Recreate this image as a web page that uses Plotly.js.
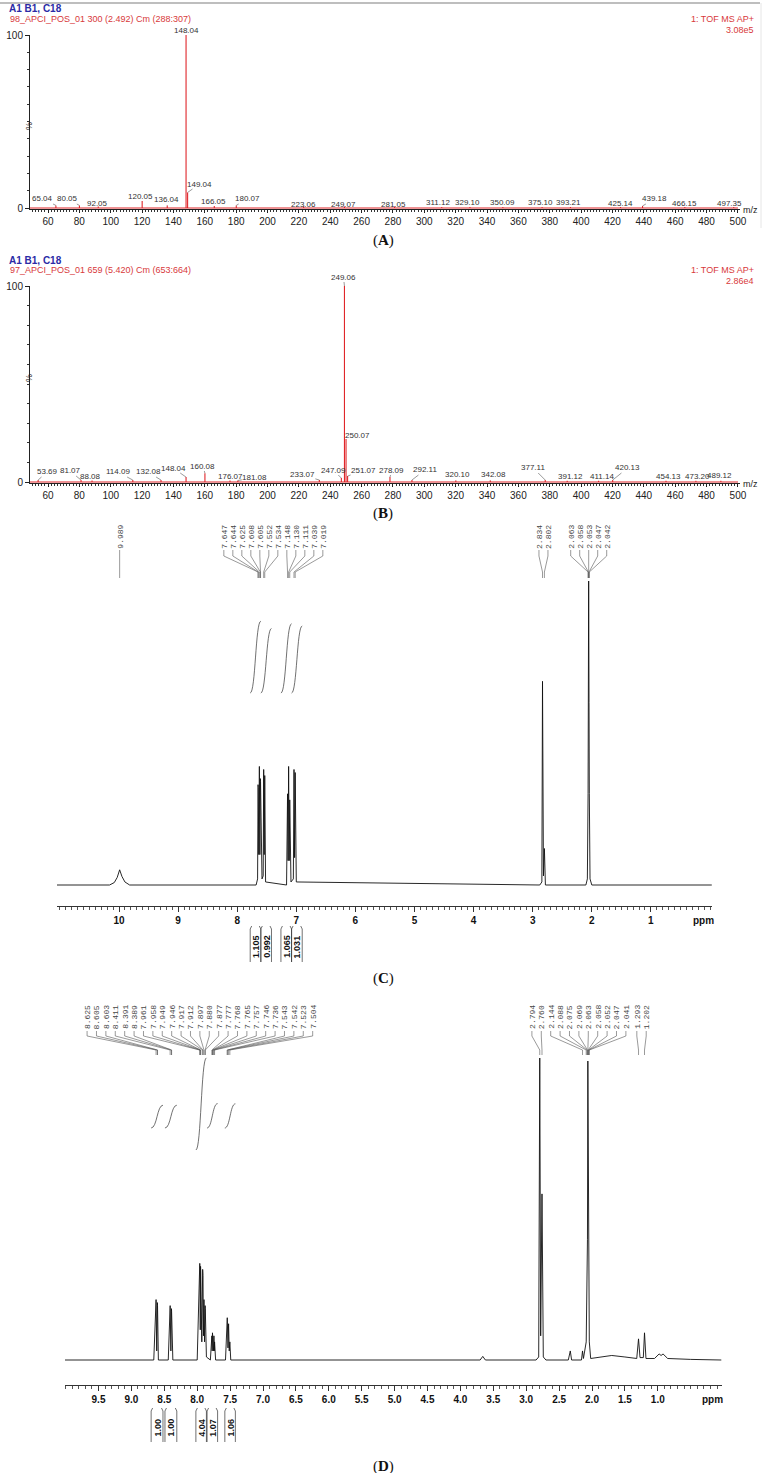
<!DOCTYPE html>
<html><head><meta charset="utf-8">
<script src="https://cdn.plot.ly/plotly-3.0.1.min.js"></script>
<style>html,body{margin:0;padding:0;background:#fff;}#chart{width:767px;height:1473px;}</style>
</head><body><div id="chart"></div>
<script>
// ================= DATA =================
// Panel A mass spectrum (m/z, relative intensity %)
const msA_mz  = [65.04, 80.05, 92.05, 120.05, 136.04, 148.04, 149.04, 166.05, 180.07, 223.06, 249.07, 281.05, 311.12, 329.10, 350.09, 375.10, 393.21, 425.14, 439.18, 466.15, 497.35];
const msA_int = [1.5, 1.5, 0.8, 4, 1.5, 100, 9, 1.2, 1.5, 0.8, 0.8, 0.8, 0.6, 0.6, 0.6, 0.6, 0.6, 0.6, 1.2, 0.6, 0.6];
// Panel B mass spectrum
const msB_mz  = [53.69, 81.07, 88.08, 114.09, 132.08, 148.04, 160.08, 176.07, 181.08, 233.07, 247.09, 249.06, 250.07, 251.07, 278.09, 292.11, 320.10, 342.08, 377.11, 391.12, 411.14, 420.13, 454.13, 473.20, 489.12];
const msB_int = [1, 1, 0.8, 1, 1, 2.5, 4.5, 0.8, 0.8, 1, 2, 100, 22, 3, 2.5, 1, 0.8, 0.8, 1, 0.6, 0.6, 1, 0.6, 0.6, 0.6];
const msTicks = [60, 80, 100, 120, 140, 160, 180, 200, 220, 240, 260, 280, 300, 320, 340, 360, 380, 400, 420, 440, 460, 480, 500];

// Panel C 1H NMR spectrum (ppm, intensity)
const nmrC_ppm = [11.05, 10.16, 10.08, 10.03, 9.989, 9.95, 9.90, 9.82, 7.68, 7.655, 7.647, 7.644, 7.635, 7.625, 7.616, 7.608, 7.605, 7.58, 7.560, 7.552, 7.543, 7.534, 7.52, 7.165, 7.148, 7.139, 7.130, 7.120, 7.111, 7.09, 7.05, 7.039, 7.029, 7.019, 7.00, 2.88, 2.845, 2.834, 2.818, 2.802, 2.785, 2.10, 2.075, 2.063, 2.058, 2.053, 2.047, 2.042, 2.030, 2.00, -0.03];
const nmrC_int = [0, 0, 0.8, 2.5, 5, 2.8, 1, 0, 0, 2, 33, 32, 10, 39, 10, 35, 34, 2, 3, 38, 10, 36, 1, 0, 30, 8, 39, 8, 28, 1, 2, 38, 9, 37, 1, 0, 1, 67, 3, 12, 0, 0, 2, 30, 60, 100, 60, 30, 2, 0, 0];
const nmrC_peakLabels = ["9.989","7.647","7.644","7.625","7.608","7.605","7.552","7.534","7.148","7.130","7.111","7.039","7.019","2.834","2.802","2.063","2.058","2.053","2.047","2.042"];
const nmrC_intRegions = [[7.78, 7.60], [7.60, 7.42], [7.26, 7.08], [7.08, 6.90]];
const nmrC_intValues = ["1.105", "0.992", "1.065", "1.031"];
const nmrC_ticks = [1, 2, 3, 4, 5, 6, 7, 8, 9, 10];

// Panel D 1H NMR spectrum
const nmrD_ppm = [10.01, 9.0, 8.66, 8.625, 8.615, 8.605, 8.603, 8.59, 8.44, 8.411, 8.40, 8.391, 8.389, 8.37, 8.00, 7.961, 7.958, 7.953, 7.949, 7.946, 7.93, 7.917, 7.912, 7.905, 7.897, 7.888, 7.880, 7.877, 7.86, 7.80, 7.777, 7.772, 7.768, 7.765, 7.761, 7.757, 7.750, 7.746, 7.740, 7.736, 7.72, 7.57, 7.543, 7.542, 7.532, 7.523, 7.513, 7.504, 7.49, 3.70, 3.66, 3.62, 2.85, 2.81, 2.794, 2.780, 2.760, 2.74, 2.70, 2.36, 2.33, 2.31, 2.16, 2.144, 2.13, 2.088, 2.075, 2.069, 2.063, 2.058, 2.052, 2.047, 2.041, 2.02, 1.90, 1.70, 1.50, 1.32, 1.293, 1.27, 1.22, 1.202, 1.18, 1.05, 0.98, 0.95, 0.92, 0.85, 0.50, 0.035];
const nmrD_int = [0, 0, 0, 20, 3, 19, 18, 0, 0, 18, 3, 17, 16, 0, 0, 32, 30, 10, 31, 29, 6, 30, 28, 8, 20, 6, 18, 17, 1, 0, 8, 3, 9, 8, 3, 7, 3, 8, 3, 6, 0, 0, 14, 13, 4, 12, 3, 6, 0, 0, 1.2, 0, 0, 1, 100, 8, 55, 1, 0, 0, 3, 0, 0, 3, 0.5, 6, 22, 40, 99, 60, 35, 18, 6, 0.5, 0.8, 1.5, 1, 0.5, 7, 0.8, 0.8, 9, 0.5, 0.5, 2, 1.5, 2, 0.5, 0.2, 0];
const nmrD_peakLabels = ["8.625","8.605","8.603","8.411","8.391","8.389","7.961","7.958","7.949","7.946","7.917","7.912","7.897","7.880","7.877","7.777","7.768","7.765","7.757","7.746","7.736","7.543","7.542","7.523","7.504","2.794","2.760","2.144","2.088","2.075","2.069","2.063","2.058","2.052","2.047","2.041","1.293","1.202"];
const nmrD_intRegions = [[8.70, 8.52], [8.49, 8.31], [8.02, 7.86], [7.85, 7.69], [7.58, 7.42]];
const nmrD_intValues = ["1.00", "1.00", "4.04", "1.07", "1.06"];
const nmrD_ticks = [1.0, 1.5, 2.0, 2.5, 3.0, 3.5, 4.0, 4.5, 5.0, 5.5, 6.0, 6.5, 7.0, 7.5, 8.0, 8.5, 9.0, 9.5];

// ================= LAYOUT HELPERS (pixels) =================
const W = 767, H = 1473;
const X = p => p / W, Y = p => 1 - p / H;
const FONT = 'Liberation Sans, Arial, sans-serif';
const MONO = 'Liberation Mono, DejaVu Sans Mono, monospace';
const SERIF = 'Liberation Serif, Times New Roman, serif';
const RED = '#e0262a';

// label offsets for MS peak labels (pixels: dx right, dy up from baseline to label centre)
const msA_lblDx = [-13, -12, -1, -2, -1, 0, 12, -1, 11, 0, -1, -1, -4, -2, 0, -2, -2, 0, 12, 0, -4];
const msA_lblDy = [9, 9, 5, 12, 8, 178, 24, 6, 9, 4, 4, 4, 5, 5, 5, 5, 5, 4, 9, 4, 4];
const msB_lblDx = [9, -11, -2, -15, -13, -13, -2, 0, 17, -17, -8, -1, 11, 16, 2, 13, 2, 3, -12, 3, 3, 15, 2, 2, -1];
const msB_lblDy = [10, 11, 5, 10, 10, 14, 16, 5, 4, 7, 12, 205, 47, 12, 12, 12, 7, 7, 14, 5, 5, 14, 5, 5, 6];

const MSX = {x0: 30, x1: 740, px60: 48, ppu: 1.568};
const mzAt = px => 60 + (px - MSX.px60) / MSX.ppu;
const PA = {top: 35, base: 208};
const PB = {top: 286, base: 482};
const PC = {x0: 57, x1: 712, p0: 710, ppu: 59.1, axisY: 906, baseY: 885, topY: 560, scale: 3.04};
const PD = {x0: 65, x1: 722, p0: 723.6, ppu: 65.8, axisY: 1385, baseY: 1360, topY: 1045, scale: 3.02};
const ppmPx = (P, v) => P.p0 - v * P.ppu;
const ppmAt = (P, px) => (P.p0 - px) / P.ppu;

const shapes = [], annotations = [];
function ann(o) { annotations.push(Object.assign({showarrow: false, xref: 'paper', yref: 'paper'}, o)); }
function seg(x0, y0, x1, y1, color, width) {
  shapes.push({type: 'line', xref: 'paper', yref: 'paper', x0: X(x0), y0: Y(y0), x1: X(x1), y1: Y(y1), line: {color: color, width: width}});
}

// ---------- MS traces ----------
function stickTrace(mz, inten, xa, ya) {
  const lo = mzAt(MSX.x0), hi = mzAt(MSX.x1 - 2);
  const order = mz.map((m, i) => i).sort((a, b) => mz[a] - mz[b]);
  const xs = [lo], ys = [0];
  order.forEach(i => { xs.push(mz[i], mz[i], mz[i]); ys.push(0, inten[i], 0); });
  xs.push(hi); ys.push(0);
  return {x: xs, y: ys, xaxis: xa, yaxis: ya, type: 'scatter', mode: 'lines', line: {color: RED, width: 1.1}, hoverinfo: 'skip'};
}
function msAxes(P, xa, ya) {
  const ppy = (P.base - P.top) / 100;
  const xaxis = {domain: [X(MSX.x0), X(MSX.x1)], range: [mzAt(MSX.x0), mzAt(MSX.x1)], anchor: ya,
    showgrid: false, zeroline: false, showline: true, linecolor: '#222', linewidth: 1, layer: 'below traces',
    ticks: 'outside', ticklen: 3, tickcolor: '#222', tickwidth: 1, tickmode: 'array', tickvals: msTicks,
    minor: {tickmode: 'linear', tick0: 0, dtick: 2, ticklen: 2, ticks: 'outside', tickcolor: '#333'},
    tickfont: {family: FONT, size: 10, color: '#222'}, fixedrange: true};
  const yaxis = {domain: [Y(P.base + 1), Y(P.top)], range: [-1 / ppy, 100], anchor: xa,
    showgrid: false, zeroline: false, showline: true, linecolor: '#222', linewidth: 1,
    ticks: 'outside', ticklen: 4, tickcolor: '#222', tickmode: 'array', tickvals: [0, 100],
    minor: {tickmode: 'linear', tick0: 0, dtick: 10, ticklen: 2, ticks: 'outside', tickcolor: '#333'},
    tickfont: {family: FONT, size: 10, color: '#222'}, fixedrange: true};
  return [xaxis, yaxis];
}
function msLabels(P, mz, inten, dx, dy, xr, yr) {
  const ppy = (P.base - P.top) / 100;
  mz.forEach((m, i) => {
    const hpx = inten[i] * ppy;
    annotations.push({x: m, y: inten[i], xref: xr, yref: yr, text: m.toFixed(2), showarrow: true, arrowhead: 0,
      arrowwidth: 0.6, arrowcolor: '#555', ax: dx[i], ay: hpx - dy[i], standoff: 0, borderpad: 0,
      font: {family: FONT, size: 8, color: '#333'}});
  });
}
function msHeader(P, t0, line2, right1, right2, pctY) {
  ann({x: X(7), y: Y(t0), xanchor: 'left', yanchor: 'middle', text: '<b>A1 B1, C18</b>', font: {family: FONT, size: 10, color: '#2b2ba6'}});
  ann({x: X(8), y: Y(t0 + 10), xanchor: 'left', yanchor: 'middle', text: line2, font: {family: FONT, size: 9, color: '#d8393b'}});
  ann({x: X(756), y: Y(t0 + 10), xanchor: 'right', yanchor: 'middle', text: right1, font: {family: FONT, size: 9, color: '#d8393b'}});
  ann({x: X(756), y: Y(t0 + 21), xanchor: 'right', yanchor: 'middle', text: right2, font: {family: FONT, size: 9, color: '#d8393b'}});
  ann({x: X(22), y: Y(pctY), text: '%', textangle: -90, font: {family: FONT, size: 9, color: '#222'}});
  ann({x: X(750), y: Y(P.base + 2), xanchor: 'center', yanchor: 'middle', text: 'm/z', font: {family: FONT, size: 9, color: '#222'}});
}

// ---------- NMR ----------
function nmrAxes(P, tickvals, fmt, xa, ya) {
  const xaxis = {domain: [X(P.x0), X(P.x1)], range: [ppmAt(P, P.x0), ppmAt(P, P.x1)], anchor: ya,
    showgrid: false, zeroline: false, showline: true, linecolor: '#333', linewidth: 1,
    ticks: 'outside', ticklen: 5, tickcolor: '#333', tickwidth: 1, tickmode: 'array', tickvals: tickvals,
    ticktext: tickvals.map(fmt),
    minor: {tickmode: 'linear', tick0: 0, dtick: 0.1, ticklen: 3, ticks: 'outside', tickcolor: '#555'},
    tickfont: {family: FONT, size: 10, color: '#111', weight: 'bold'}, fixedrange: true};
  const yaxis = {domain: [Y(P.axisY), Y(P.topY)], range: [-(P.axisY - P.baseY) / P.scale, (P.baseY - P.topY) / P.scale],
    anchor: xa, visible: false, fixedrange: true};
  return [xaxis, yaxis];
}
function nmrPeakLabels(P, labels, sp, yText, yA, yB, yC, yD) {
  const pk = labels.map(s => ppmPx(P, parseFloat(s)));
  let groups = pk.map((p, i) => ({idx: [i], sum: p}));
  let changed = true;
  while (changed) {
    changed = false;
    for (let g = 1; g < groups.length; g++) {
      const a = groups[g - 1], b = groups[g];
      const ac = a.sum / a.idx.length, bc = b.sum / b.idx.length;
      const aR = ac + (a.idx.length - 1) * sp / 2, bL = bc - (b.idx.length - 1) * sp / 2;
      if (bL - aR < sp) {
        groups.splice(g - 1, 2, {idx: a.idx.concat(b.idx), sum: a.sum + b.sum});
        changed = true; break;
      }
    }
  }
  const pos = [];
  groups.forEach(g => {
    const c = g.sum / g.idx.length, n = g.idx.length;
    g.idx.forEach((i, k) => { pos[i] = c - (n - 1) * sp / 2 + k * sp; });
  });
  labels.forEach((s, i) => {
    ann({x: X(pos[i]), y: Y(yText), xanchor: 'center', yanchor: 'middle', text: s, textangle: -90,
      font: {family: MONO, size: 8, color: '#444'}});
    shapes.push({type: 'path', xref: 'paper', yref: 'paper',
      path: `M ${X(pos[i])},${Y(yA)} L ${X(pos[i])},${Y(yB)} L ${X(pk[i])},${Y(yC)} L ${X(pk[i])},${Y(yD)}`,
      line: {color: '#555', width: 0.6}});
  });
}
function nmrIntegrals(P, regions, values, bottoms, scalePx, boxTop, boxBot) {
  regions.forEach((r, i) => {
    const xa = ppmPx(P, r[0]), xb = ppmPx(P, r[1]);
    const yb = bottoms[i], yt = yb - parseFloat(values[i]) * scalePx, xm = (xa + xb) / 2;
    shapes.push({type: 'path', xref: 'paper', yref: 'paper',
      path: `M ${X(xa)},${Y(yb)} C ${X(xm)},${Y(yb)} ${X(xm)},${Y(yt)} ${X(xb)},${Y(yt)}`,
      line: {color: '#333', width: 0.7}});
    seg(xa, boxTop, xa, boxBot, '#333', 0.7);
    seg(xb, boxTop, xb, boxBot, '#333', 0.7);
    seg(xa, boxTop, xa + 1.5, boxTop - 3, '#333', 0.7);
    seg(xb, boxTop, xb - 1.5, boxTop - 3, '#333', 0.7);
    ann({x: X(xm), y: Y((boxTop + boxBot) / 2 + 1), xanchor: 'center', yanchor: 'middle', text: '<b>' + values[i] + '</b>',
      textangle: -90, font: {family: FONT, size: 9, color: '#111'}});
  });
}

// ================= BUILD =================
const [xA, yA] = msAxes(PA, 'x', 'y');
const [xB, yB] = msAxes(PB, 'x2', 'y2');
const [xC, yC] = nmrAxes(PC, nmrC_ticks, v => String(v), 'x3', 'y3');
const [xD, yD] = nmrAxes(PD, nmrD_ticks, v => v.toFixed(1), 'x4', 'y4');

const traces = [
  stickTrace(msA_mz, msA_int, 'x', 'y'),
  stickTrace(msB_mz, msB_int, 'x2', 'y2'),
  {x: nmrC_ppm, y: nmrC_int, xaxis: 'x3', yaxis: 'y3', type: 'scatter', mode: 'lines', line: {color: '#111', width: 0.9}, hoverinfo: 'skip'},
  {x: nmrD_ppm, y: nmrD_int, xaxis: 'x4', yaxis: 'y4', type: 'scatter', mode: 'lines', line: {color: '#111', width: 0.9}, hoverinfo: 'skip'}
];

// headers / frames
seg(0, 3, 760, 3, '#a8a8a8', 1.5);
seg(761, 3, 761, 228, '#e6e6e6', 1);
msHeader(PA, 9, '98_APCI_POS_01 300 (2.492) Cm (288:307)', '1: TOF MS AP+', '3.08e5', 120);
msHeader(PB, 260, '97_APCI_POS_01 659 (5.420) Cm (653:664)', '1: TOF MS AP+', '2.86e4', 372);
msLabels(PA, msA_mz, msA_int, msA_lblDx, msA_lblDy, 'x', 'y');
msLabels(PB, msB_mz, msB_int, msB_lblDx, msB_lblDy, 'x2', 'y2');

nmrPeakLabels(PC, nmrC_peakLabels, 9.0, 537, 550, 556, 572, 578);
nmrPeakLabels(PD, nmrD_peakLabels, 9.4, 1017, 1031, 1036, 1050, 1055);
nmrIntegrals(PC, nmrC_intRegions, nmrC_intValues, [693, 693, 693, 693], 65, 929, 962);
nmrIntegrals(PD, nmrD_intRegions, nmrD_intValues, [1128, 1128, 1150, 1128, 1128], 22.8, 1411, 1442);
ann({x: X(703), y: Y(920), xanchor: 'center', yanchor: 'middle', text: '<b>ppm</b>', font: {family: FONT, size: 10, color: '#111'}});
ann({x: X(712), y: Y(1399), xanchor: 'center', yanchor: 'middle', text: '<b>ppm</b>', font: {family: FONT, size: 10, color: '#111'}});

// panel letters
[['A', 240], ['B', 513], ['C', 978], ['D', 1466]].forEach(([L, y]) => {
  ann({x: X(383), y: Y(y), xanchor: 'center', yanchor: 'middle', text: '(<b>' + L + '</b>)', font: {family: SERIF, size: 15, color: '#111'}});
});

const layout = {
  width: W, height: H, margin: {l: 0, r: 0, t: 0, b: 0}, paper_bgcolor: '#fff', plot_bgcolor: 'rgba(0,0,0,0)',
  showlegend: false, font: {family: FONT},
  xaxis: xA, yaxis: yA, xaxis2: xB, yaxis2: yB, xaxis3: xC, yaxis3: yC, xaxis4: xD, yaxis4: yD,
  shapes: shapes, annotations: annotations
};
Plotly.newPlot('chart', traces, layout, {staticPlot: true, displayModeBar: false});
</script>
</body></html>
